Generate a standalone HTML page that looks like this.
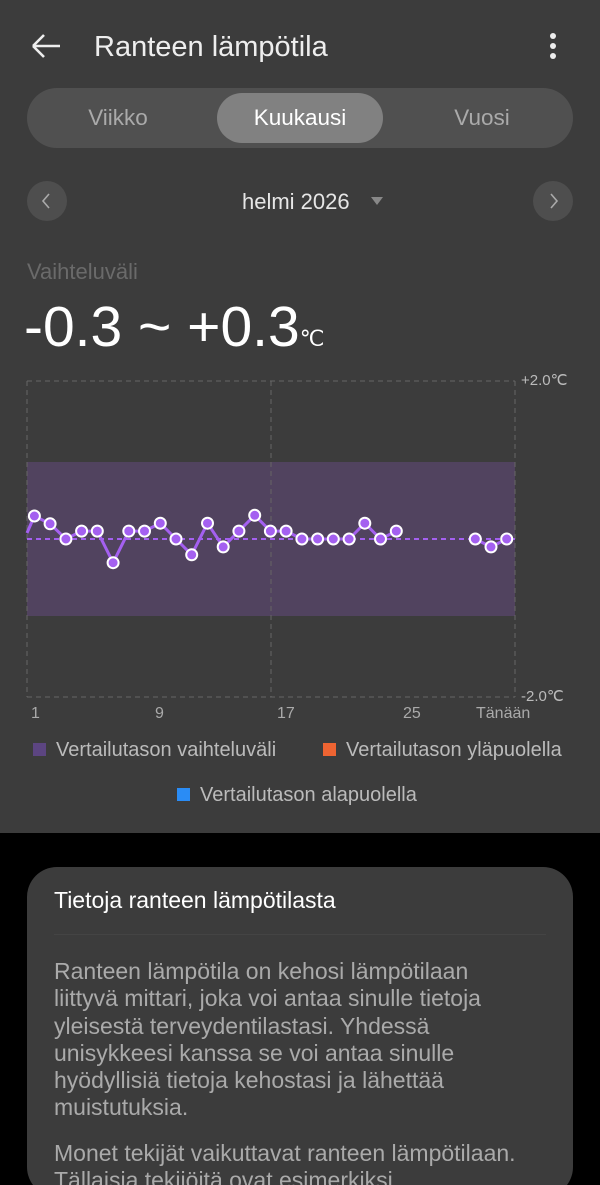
<!DOCTYPE html>
<html><head><meta charset="utf-8"><style>
*{margin:0;padding:0;box-sizing:border-box}
html,body{width:600px;height:1185px;overflow:hidden}
body{background:#000;font-family:"Liberation Sans",sans-serif;position:relative}
.t{position:absolute;white-space:nowrap}
</style></head><body>
<div style="position:absolute;left:0;top:0;width:600px;height:833px;background:#3c3c3c"></div>
<svg style="position:absolute;left:0;top:0" width="600" height="833">
<path d="M33 46H60M33 46L44 35M33 46L44 57" stroke="#eee" stroke-width="2.6" fill="none"/>
<circle cx="553" cy="36" r="3" fill="#eee"/><circle cx="553" cy="46" r="3" fill="#eee"/><circle cx="553" cy="56" r="3" fill="#eee"/>
<rect x="27" y="88" width="546" height="60" rx="30" fill="#505050"/>
<rect x="217" y="93" width="166" height="50" rx="25" fill="#818181"/>
<circle cx="47" cy="201" r="20" fill="#4e4e4e"/><path d="M49 194L43 201L49 208" stroke="#aaa" stroke-width="1.6" fill="none"/>
<circle cx="553" cy="201" r="20" fill="#4e4e4e"/><path d="M551 194L557 201L551 208" stroke="#aaa" stroke-width="1.6" fill="none"/>
<path d="M371 197H383L377 205Z" fill="#888"/>
<rect x="27" y="462" width="488" height="154" fill="#51435f"/>
<g stroke="#666" stroke-dasharray="5,4" stroke-width="1" fill="none">
<path d="M27 381H515M27 697H515M27 381V697M271 381V697M515 381V697"/>
</g>
<path d="M27 539H515" stroke="#a460f0" stroke-width="2" stroke-dasharray="5,4"/>
<g fill="none" stroke="#a460f0" stroke-width="3" stroke-linejoin="round">
<path d="M27 533 L34.4 516 L50.1 523.8 L65.9 539 L81.6 531.1 L97.3 531.1 L113.1 562.7 L128.8 531.1 L144.5 531.1 L160.3 523.2 L176 539 L191.7 554.8 L207.5 523.2 L223.2 546.9 L238.9 531.1 L254.7 515.3 L270.4 531.1 L286.1 531.1 L301.9 539 L317.6 539 L333.3 539 L349.1 539 L364.8 523.2 L380.5 539 L396.3 531.1"/>
<path d="M475.3 539 L491 546.9 L506.7 539"/>
</g>
<g fill="#a460f0" stroke="#fff" stroke-width="2">
<circle cx="34.4" cy="516" r="5.5"/><circle cx="50.1" cy="523.8" r="5.5"/><circle cx="65.9" cy="539" r="5.5"/><circle cx="81.6" cy="531.1" r="5.5"/><circle cx="97.3" cy="531.1" r="5.5"/><circle cx="113.1" cy="562.7" r="5.5"/><circle cx="128.8" cy="531.1" r="5.5"/><circle cx="144.5" cy="531.1" r="5.5"/><circle cx="160.3" cy="523.2" r="5.5"/><circle cx="176" cy="539" r="5.5"/><circle cx="191.7" cy="554.8" r="5.5"/><circle cx="207.5" cy="523.2" r="5.5"/><circle cx="223.2" cy="546.9" r="5.5"/><circle cx="238.9" cy="531.1" r="5.5"/><circle cx="254.7" cy="515.3" r="5.5"/><circle cx="270.4" cy="531.1" r="5.5"/><circle cx="286.1" cy="531.1" r="5.5"/><circle cx="301.9" cy="539" r="5.5"/><circle cx="317.6" cy="539" r="5.5"/><circle cx="333.3" cy="539" r="5.5"/><circle cx="349.1" cy="539" r="5.5"/><circle cx="364.8" cy="523.2" r="5.5"/><circle cx="380.5" cy="539" r="5.5"/><circle cx="396.3" cy="531.1" r="5.5"/><circle cx="475.3" cy="539" r="5.5"/><circle cx="491" cy="546.9" r="5.5"/><circle cx="506.7" cy="539" r="5.5"/>
</g>
<rect x="33" y="743" width="13" height="13" fill="#5c4581"/>
<rect x="323" y="743" width="13" height="13" fill="#ee6432"/>
<rect x="177" y="788" width="13" height="13" fill="#2a8cf5"/>
</svg>
<div class="t" style="left:94px;top:31px;font-size:29px;color:#eee">Ranteen lämpötila</div>
<div class="t" style="left:27px;top:105px;width:182px;text-align:center;font-size:22.5px;color:#aaa">Viikko</div>
<div class="t" style="left:217px;top:105px;width:166px;text-align:center;font-size:22.5px;color:#fff">Kuukausi</div>
<div class="t" style="left:391px;top:105px;width:182px;text-align:center;font-size:22.5px;color:#aaa">Vuosi</div>
<div class="t" style="left:242px;top:189px;font-size:22px;color:#e6e6e6">helmi 2026</div>
<div class="t" style="left:27px;top:259px;font-size:22px;color:#6a6a6a">Vaihteluväli</div>
<div class="t" style="left:24px;top:294px;font-size:57px;color:#fff">-0.3 ~ +0.3<span style="font-size:22px">℃</span></div>
<div class="t" style="left:521px;top:371px;font-size:15px;color:#bbb">+2.0℃</div>
<div class="t" style="left:521px;top:687px;font-size:15px;color:#bbb">-2.0℃</div>
<div class="t" style="left:31px;top:705px;font-size:16px;color:#aaa">1</div>
<div class="t" style="left:155px;top:705px;font-size:16px;color:#aaa">9</div>
<div class="t" style="left:277px;top:705px;font-size:16px;color:#aaa">17</div>
<div class="t" style="left:403px;top:705px;font-size:16px;color:#aaa">25</div>
<div class="t" style="left:476px;top:705px;font-size:16px;color:#aaa">Tänään</div>
<div class="t" style="left:56px;top:739px;font-size:20px;color:#bbb">Vertailutason vaihteluväli</div>
<div class="t" style="left:346px;top:739px;font-size:20px;color:#bbb">Vertailutason yläpuolella</div>
<div class="t" style="left:200px;top:784px;font-size:20px;color:#bbb">Vertailutason alapuolella</div>
<div style="position:absolute;left:27px;top:867px;width:546px;height:330px;background:#3c3c3c;border-radius:30px"></div>
<div class="t" style="left:54px;top:887px;font-size:23px;color:#fff">Tietoja ranteen lämpötilasta</div>
<div style="position:absolute;left:54px;top:934px;width:492px;height:1px;background:#444"></div>
<div style="position:absolute;left:54px;top:958px;width:530px;font-size:23px;line-height:27.3px;color:#aaa;white-space:nowrap">Ranteen lämpötila on kehosi lämpötilaan<br>liittyvä mittari, joka voi antaa sinulle tietoja<br>yleisestä terveydentilastasi. Yhdessä<br>unisykkeesi kanssa se voi antaa sinulle<br>hyödyllisiä tietoja kehostasi ja lähettää<br>muistutuksia.</div>
<div style="position:absolute;left:54px;top:1140px;width:530px;font-size:23px;line-height:27.3px;color:#aaa;white-space:nowrap">Monet tekijät vaikuttavat ranteen lämpötilaan.<br>Tällaisia tekijöitä ovat esimerkiksi</div>
</body></html>
